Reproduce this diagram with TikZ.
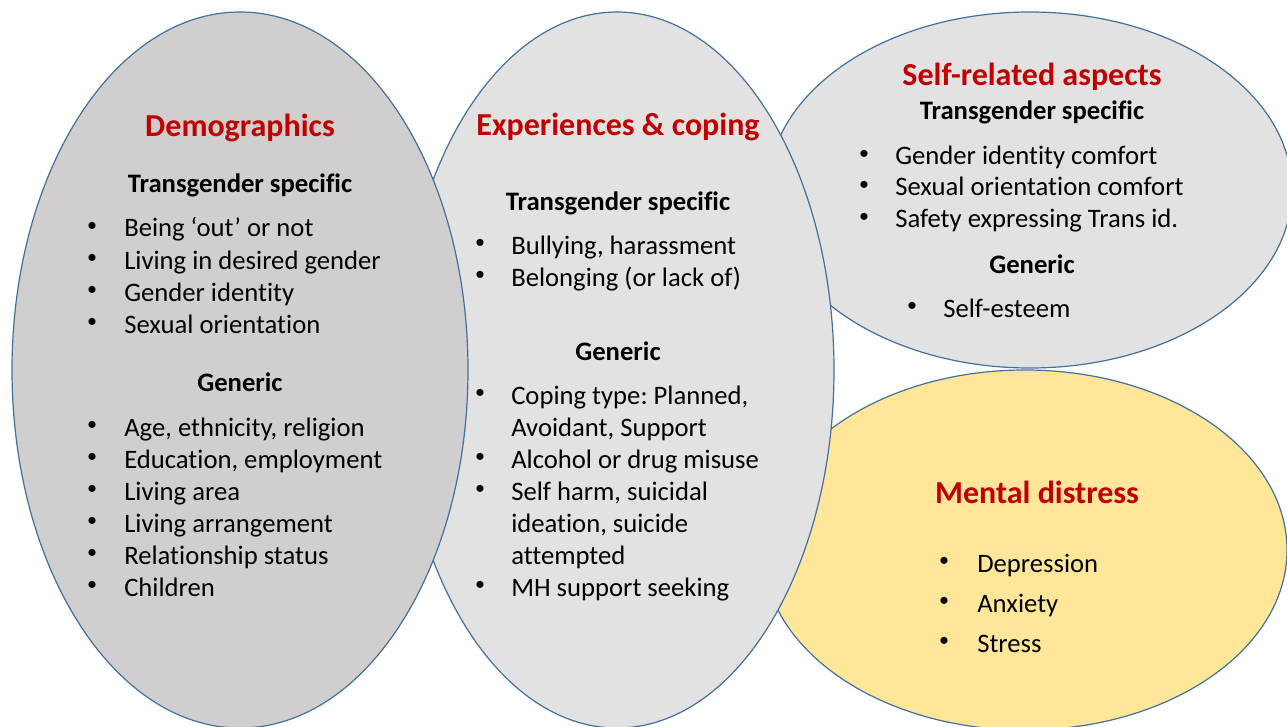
\documentclass[tikz,border=0pt]{standalone}
\usepackage{fontspec}
\setmainfont{Carlito}[Ligatures=CommonOff]
\frenchspacing
\definecolor{dred}{HTML}{C00000}
\definecolor{edgeblue}{HTML}{41719C}
\definecolor{demofill}{HTML}{D0CECE}
\definecolor{lightfill}{HTML}{E2E2E2}
\definecolor{mentfill}{HTML}{FFE699}
\newcommand{\bodyfnt}{\fontsize{20}{24}\selectfont}
\newcommand{\bulfnt}{\fontsize{15}{18}\selectfont}
\newcommand{\titlefnt}{\fontsize{24}{29}\selectfont\bfseries}
\tikzset{
  blob/.style={draw=edgeblue, line width=0.9pt},
  ttl/.style={font=\titlefnt, text=dred, anchor=base, inner sep=0pt},
  sub/.style={font=\bodyfnt\bfseries, anchor=base, inner sep=0pt},
  itm/.style={font=\bodyfnt, anchor=base west, inner sep=0pt},
  bul/.style={font=\bulfnt, anchor=center, inner sep=0pt, yshift=7.5pt},
}
\begin{document}
\begin{tikzpicture}[x=0.75pt,y=-0.75pt]
\useasboundingbox (0,0) rectangle (1287,727);
\clip (0,0) rectangle (1287,727);
\fill[white] (0,0) rectangle (1287,727);
% ellipses (back to front)
\filldraw[blob, fill=mentfill] (1025,550) ellipse [x radius=262, y radius=180];
\filldraw[blob, fill=lightfill] (1030,190) ellipse [x radius=262, y radius=178];
\filldraw[blob, fill=lightfill] (617,370) ellipse [x radius=217, y radius=358];
\filldraw[blob, fill=demofill] (240,370) ellipse [x radius=228, y radius=358];

\begin{scope}[shift={(0,2)}]
% Demographics
\node[ttl] (d0) at (240,135) {Demographics};
\node[sub] (d1) at (240,191) {Transgender specific};
\node[bul] (db1) at (92,235) {•};
\node[itm] (d2) at (124,235) {Being ‘out’ or not};
\node[bul] (db2) at (92,267) {•};
\node[itm] (d3) at (124,267) {Living in desired gender};
\node[bul] (db3) at (92,299) {•};
\node[itm] (d4) at (124,299) {Gender identity};
\node[bul] (db4) at (92,331) {•};
\node[itm] (d5) at (124,331) {Sexual orientation};
\node[sub] (d6) at (240,389) {Generic};
\node[bul] (db5) at (92,434) {•};
\node[itm] (d7) at (124,434) {Age, ethnicity, religion};
\node[bul] (db6) at (92,466) {•};
\node[itm] (d8) at (124,466) {Education, employment};
\node[bul] (db7) at (92,498) {•};
\node[itm] (d9) at (124,498) {Living area};
\node[bul] (db8) at (92,530) {•};
\node[itm] (d10) at (124,530) {Living arrangement};
\node[bul] (db9) at (92,562) {•};
\node[itm] (d11) at (124,562) {Relationship status};
\node[bul] (db10) at (92,594) {•};
\node[itm] (d12) at (124,594) {Children};

% Experiences & coping
\node[ttl] (e0) at (618,134) {Experiences \& coping};
\node[sub] (e1) at (618,208) {Transgender specific};
\node[bul] (eb1) at (480,252) {•};
\node[itm] (e2) at (511,252) {Bullying, harassment};
\node[bul] (eb2) at (480,284) {•};
\node[itm] (e3) at (511,284) {Belonging (or lack of)};
\node[sub] (e4) at (618,358) {Generic};
\node[bul] (eb3) at (480,402) {•};
\node[itm] (e5) at (511,402) {Coping type: Planned,};
\node[itm] (e6) at (511,434) {Avoidant, Support};
\node[bul] (eb4) at (480,466) {•};
\node[itm] (e7) at (511,466) {Alcohol or drug misuse};
\node[bul] (eb5) at (480,498) {•};
\node[itm] (e8) at (511,498) {Self harm, suicidal};
\node[itm] (e9) at (511,530) {ideation, suicide};
\node[itm] (e10) at (511,562) {attempted};
\node[bul] (eb6) at (480,594) {•};
\node[itm] (e11) at (511,594) {MH support seeking};

% Self-related aspects
\node[ttl] (s0) at (1032,84) {Self-related aspects};
\node[sub] (s1) at (1032,118) {Transgender specific};
\node[bul] (sb1) at (864,163) {•};
\node[itm] (s2) at (895,163) {Gender identity comfort};
\node[bul] (sb2) at (864,194) {•};
\node[itm] (s3) at (895,194) {Sexual orientation comfort};
\node[bul] (sb3) at (864,226) {•};
\node[itm] (s4) at (895,226) {Safety expressing Trans id.};
\node[sub] (s5) at (1032,271) {Generic};
\node[bul] (sb4) at (912,315) {•};
\node[itm] (s6) at (943,315) {Self-esteem};

% Mental distress
\node[ttl] (m0) at (1037,501) {Mental distress};
\node[bul] (mb1) at (944,570) {•};
\node[itm] (m1) at (977,570) {Depression};
\node[bul] (mb2) at (944,610) {•};
\node[itm] (m2) at (977,610) {Anxiety};
\node[bul] (mb3) at (944,650) {•};
\node[itm] (m3) at (977,650) {Stress};
\end{scope}
\end{tikzpicture}
\end{document}
